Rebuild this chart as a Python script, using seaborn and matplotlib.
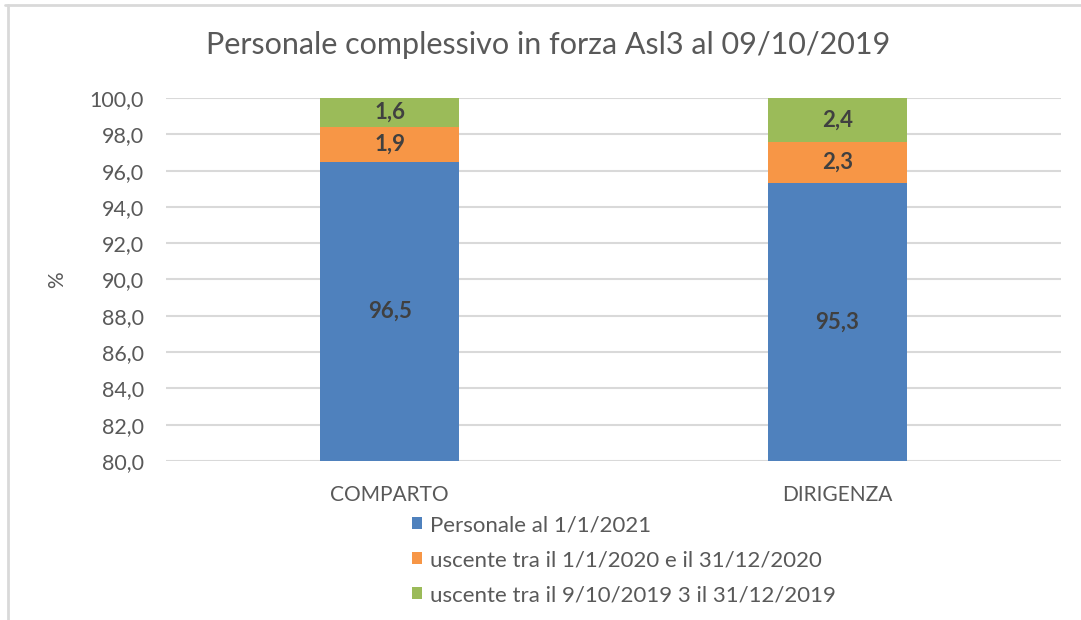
import matplotlib
matplotlib.use("Agg")
import matplotlib.pyplot as plt
import seaborn as sns
import pandas as pd
import numpy as np
from matplotlib.patches import Patch
from matplotlib.lines import Line2D

categories = ["COMPARTO", "DIRIGENZA"]
personale_2021 = [96.5, 95.3]
uscente_2020 = [1.9, 2.3]
uscente_2019 = [1.6, 2.4]
series_names = ["Personale al 1/1/2021",
                "uscente tra il 1/1/2020 e il 31/12/2020",
                "uscente tra il 9/10/2019 3 il 31/12/2019"]
colors = ["#4F81BD", "#F79646", "#9BBB59"]
yticks = [80, 82, 84, 86, 88, 90, 92, 94, 96, 98, 100]

sns.set_theme(style="white")
plt.rcParams["font.family"] = ["Lato", "DejaVu Sans"]

fig = plt.figure(figsize=(10.81, 6.2), dpi=100)
ax = fig.add_axes([166/1081, 1-461/620, (1061-166)/1081, (461-98)/620])

df = pd.DataFrame({"cat": categories,
                   "s1": personale_2021, "s2": uscente_2020, "s3": uscente_2019})
df["c1"] = df["s1"]
df["c2"] = df["s1"] + df["s2"]
df["c3"] = df["c2"] + df["s3"]

bw = 0.31
for col, colr in [("c3", colors[2]), ("c2", colors[1]), ("c1", colors[0])]:
    sns.barplot(data=df, x="cat", y=col, color=colr, width=bw, ax=ax,
                saturation=1, linewidth=0, zorder=3)

ax.set_ylim(80, 100)
ax.set_yticks(yticks)
ax.set_yticklabels([f"{v:.1f}".replace(".", ",") for v in yticks])
ax.yaxis.grid(True, color="#D9D9D9", linewidth=1.5, zorder=0)
ax.set_axisbelow(True)
for s in ax.spines.values():
    s.set_visible(False)
ax.tick_params(axis="both", length=0, colors="#595959")
ax.tick_params(axis="y", pad=16, labelsize=15.5)
ax.tick_params(axis="x", pad=17, labelsize=15)
ax.set_xlabel("")
ax.set_ylabel("%", color="#595959", fontsize=15, labelpad=16)

# data labels
for i in range(len(categories)):
    segs = [(df["c1"][i], df["s1"][i], 80),
            (df["c2"][i], df["s2"][i], df["c1"][i]),
            (df["c3"][i], df["s3"][i], df["c2"][i])]
    for top, val, bottom in segs:
        yc = (max(bottom, 80) + top) / 2
        ax.text(i, yc, f"{val:.1f}".replace(".", ","), ha="center", va="center",
                fontsize=16, fontweight="bold", color="#404040", zorder=5)

fig.text(548/1081, 1-45/620, "Personale complessivo in forza Asl3 al 09/10/2019",
         ha="center", va="center", fontsize=22, color="#595959")

handles = [Patch(facecolor=c, edgecolor="none") for c in colors]
leg = fig.legend(handles, series_names, loc="upper left",
                 bbox_to_anchor=(401/1081, 1-504/620), frameon=False,
                 fontsize=16, labelspacing=0.68, handlelength=0.45,
                 handleheight=0.45, handletextpad=0.35, borderpad=0)
for t in leg.get_texts():
    t.set_color("#595959")

# chart border (top and left)
fig.add_artist(Line2D([5/1081, 1], [1-5/620, 1-5/620], color="#D9D9D9", linewidth=2))
fig.add_artist(Line2D([8/1081, 8/1081], [0, 1-5/620], color="#D9D9D9", linewidth=2))

fig.savefig("out.png", dpi=100)
